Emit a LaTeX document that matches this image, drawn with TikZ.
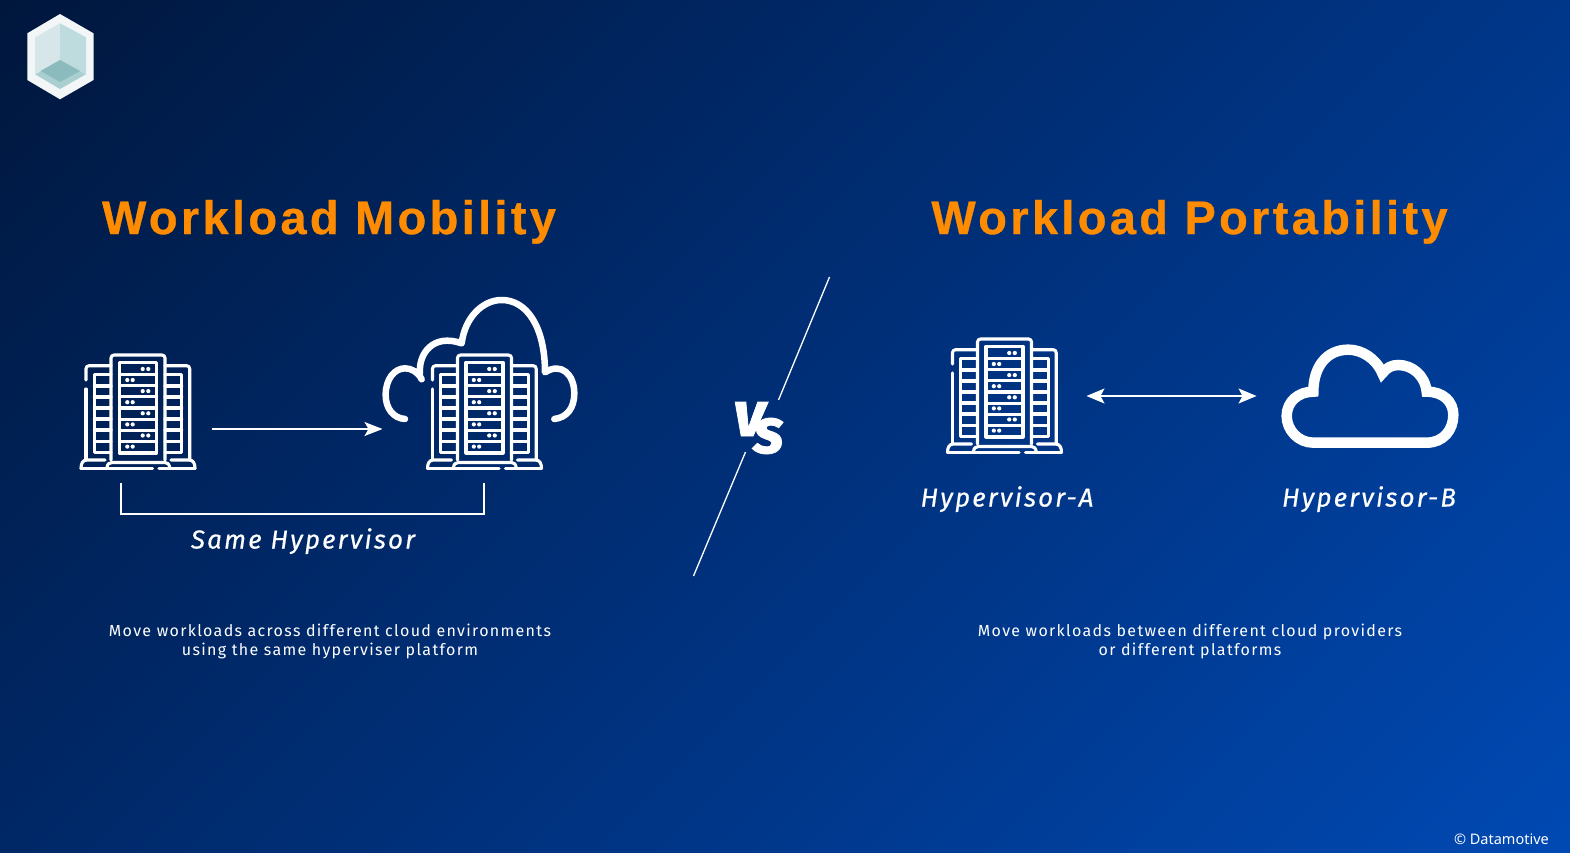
\documentclass[tikz,border=0pt]{standalone}
\usepackage{fontspec}
\usepackage{xcolor}
\setmainfont{Fira Sans}
\newfontfamily\titlefont[LetterSpace=7.1,FakeBold=0.7]{Liberation Sans}
\newfontfamily\labelfont[LetterSpace=8.2,FakeBold=0.5]{Fira Sans}
\newfontfamily\notefont[LetterSpace=8.3]{Fira Sans}
\newfontfamily\versusfont[FakeBold=1.2]{Fira Sans}
\newfontfamily\creditfont{Noto Sans}
\definecolor{bgdark}{HTML}{00173D}
\definecolor{bgmid}{HTML}{002F78}
\definecolor{bglight}{HTML}{0049B3}
\definecolor{amber}{HTML}{FF8C00}
\definecolor{hexwhite}{HTML}{F2F6F7}
\definecolor{faceleft}{HTML}{D7E7E9}
\definecolor{faceright}{HTML}{BEDBDD}
\definecolor{floorlight}{HTML}{A9CFD1}
\definecolor{floordark}{HTML}{8CBBBD}
\usetikzlibrary{arrows.meta}
\pgfdeclarehorizontalshading{bgshade}{100bp}{color(0bp)=(bgdark); color(25bp)=(bgdark); color(50bp)=(bgmid); color(75bp)=(bglight); color(100bp)=(bglight)}
\tikzset{
	rackline/.style={white,line width=3.1pt,line cap=round,line join=round},
	thinline/.style={white,line width=1.3pt},
	bigtitle/.style={amber,anchor=base,font=\titlefont\bfseries\fontsize{47}{47}\selectfont},
	hyperlabel/.style={white,anchor=base,font=\labelfont\itshape\fontsize{26}{26}\selectfont},
	notelabel/.style={white,anchor=base,font=\notefont\fontsize{16}{16}\selectfont},
	pics/server rack/.style={code={
		%%%CENTRE CABINET
		\draw[rackline,rounded corners=3pt] (51,180) -- (51,75) -- (105,75) -- (105,180);
		\draw[rackline] (59.5,82.5) rectangle (96.5,173);
		\draw[rackline] (59.5,94.7) -- (96.5,94.7) (59.5,105.8) -- (96.5,105.8) (59.5,116.9) -- (96.5,116.9) (59.5,128) -- (96.5,128)
			(59.5,139.1) -- (96.5,139.1) (59.5,150.2) -- (96.5,150.2) (59.5,161.3) -- (96.5,161.3);
		\fill[white] (82.7,89) circle (2.1pt) (88.3,89) circle (2.1pt) (67.3,100) circle (2.1pt) (72.7,100) circle (2.1pt)
			(82.7,111.1) circle (2.1pt) (88.3,111.1) circle (2.1pt) (67.3,122.2) circle (2.1pt) (72.7,122.2) circle (2.1pt)
			(82.7,133.3) circle (2.1pt) (88.3,133.3) circle (2.1pt) (67.3,144.4) circle (2.1pt) (72.7,144.4) circle (2.1pt)
			(82.7,155.5) circle (2.1pt) (88.3,155.5) circle (2.1pt) (67.3,166.6) circle (2.1pt) (72.7,166.6) circle (2.1pt);
		%%%BACK CABINETS
		\draw[rackline] (51,94.3) -- (34.3,94.3) -- (34.3,172.8) -- (51,172.8);
		\draw[rackline] (105,94.3) -- (121.7,94.3) -- (121.7,172.8) -- (105,172.8);
		\draw[rackline] (34.3,106) -- (51,106) (34.3,117) -- (51,117) (34.3,128) -- (51,128) (34.3,139) -- (51,139) (34.3,150) -- (51,150) (34.3,161.3) -- (51,161.3);
		\draw[rackline] (105,106) -- (121.7,106) (105,117) -- (121.7,117) (105,128) -- (121.7,128) (105,139) -- (121.7,139) (105,150) -- (121.7,150) (105,161.3) -- (121.7,161.3);
		\draw[rackline,rounded corners=3pt] (26,100) -- (26,85.7) -- (51,85.7);
		\draw[rackline,rounded corners=3pt] (105,85.7) -- (129.7,85.7) -- (129.7,180);
		\draw[rackline] (26,109) -- (26,180);
		%%%BASE
		\draw[rackline] (21,188.5) .. controls (21,183) and (23,180) .. (27,180) -- (45,180);
		\draw[rackline] (135,188.5) .. controls (135,183) and (133,180) .. (129,180) -- (111,180);
		\draw[rackline] (47,188.5) .. controls (47,184) and (49,182.5) .. (52,182.5) -- (105,182.5) .. controls (108,182.5) and (109,184) .. (110,188.5);
		\draw[rackline] (21,188.5) -- (92.5,188.5);
		\draw[rackline] (99,188.5) -- (135,188.5);
	}},
}
\begin{document}
\begin{tikzpicture}[x=1pt,y=-1pt]
	\useasboundingbox (0,0) rectangle (1570,853);
	\begin{scope}
		\clip (0,0) rectangle (1570,853);
		\shade[shading=bgshade,shading angle=-45] (-71.5,-430) rectangle (1641.5,1283);
	\end{scope}
	
	%%%LOGO
	\fill[hexwhite] (60,14) -- (93.5,33.3) -- (93.5,80) -- (60,99.3) -- (27.3,80) -- (27.3,33.3) -- cycle;
	\fill[faceleft] (60,23.3) -- (60,60) -- (35,75) -- (35,37.3) -- cycle;
	\fill[faceright] (60,23.3) -- (60,60) -- (86,75) -- (86,37.3) -- cycle;
	\fill[floorlight] (60,60) -- (85.5,74.5) -- (60,89) -- (35.5,74.5) -- cycle;
	\fill[floordark] (60,60) -- (80,71) -- (60,82) -- (40.5,71) -- cycle;
	
	%%%TITLES
	\node[bigtitle] (mobilitytitle) at (329,234) {Workload Mobility};
	\node[bigtitle] (portabilitytitle) at (1189.5,234) {Workload Portability};
	
	%%%MOBILITY SIDE
	\pic at (60,280) {server rack};
	\pic at (406.5,280) {server rack};
	\begin{scope}[shift={(370,285)},x=.3333pt,y=-.3333pt] %%%CLOUD BEHIND THE RACK
		\draw[white,line width=6.5pt,line cap=round,line join=round] (105,402) .. controls (70,400) and (47,370) .. (47,330) .. controls (47,280) and (75,250) .. (105,250) .. controls (125,250) and (145,262) .. (155,283)
			(150,265) .. controls (145,205) and (190,145) .. (275,175)
			.. controls (285,95) and (340,45) .. (395,45) .. controls (470,45) and (525,125) .. (525,262)
			.. controls (575,230) and (613,270) .. (613,325) .. controls (613,370) and (590,398) .. (553,402);
	\end{scope}
	\coordinate (movestart) at (212,429);
	\coordinate (moveend) at (382.5,429);
	\draw[thinline,-{Stealth[length=18pt,width=14pt,inset=4pt]}] (movestart) -- (moveend);
	\coordinate (bracketleft) at (121,483);
	\coordinate (bracketright) at (484,483);
	\draw[white,line width=1.6pt] (bracketleft) -- (121,514) -- (484,514) -- (bracketright);
	\node[hyperlabel] (samelabel) at (303,548.5) {Same Hypervisor};
	\node[notelabel] (mobilitynote) at (330,636) {Move workloads across different cloud environments};
	\node[notelabel] (mobilitynotetwo) at (330,655) {using the same hyperviser platform};
	
	%%%VS DIVIDER
	\coordinate (slashtop) at (829.5,277);
	\coordinate (slashupper) at (778.5,400);
	\coordinate (slashlower) at (745.5,452);
	\coordinate (slashbottom) at (693.5,576);
	\draw[thinline] (slashtop) -- (slashupper);
	\draw[thinline] (slashlower) -- (slashbottom);
	\node[white,anchor=base west,inner sep=0pt,font=\versusfont\bfseries\itshape\fontsize{64}{64}\selectfont] (versuslabel) at (733,436) {v\kern-12pt\raisebox{-17pt}{s}};
	
	%%%PORTABILITY SIDE
	\pic at (926.5,264) {server rack};
	\begin{scope}[shift={(1270,330)},x=.3333pt,y=-.3333pt] %%%PLAIN CLOUD
		\draw[white,line width=10.5pt,line join=miter,miter limit=6] (130,338) -- (470,338) .. controls (520,338) and (550,300) .. (550,255) .. controls (550,215) and (520,185) .. (470,185)
			.. controls (465,135) and (425,105) .. (385,105) .. controls (365,105) and (350,113) .. (337,130)
			.. controls (318,85) and (275,59) .. (235,59) .. controls (170,59) and (130,110) .. (130,185)
			.. controls (85,185) and (50,215) .. (50,258) .. controls (50,300) and (85,338) .. (130,338) -- cycle;
	\end{scope}
	\coordinate (swapleft) at (1086.5,396);
	\coordinate (swapright) at (1256.5,396);
	\draw[thinline,{Stealth[length=18pt,width=15pt,inset=4pt]}-{Stealth[length=18pt,width=15pt,inset=4pt]}] (swapleft) -- (swapright);
	\node[hyperlabel] (hyperlabela) at (1007,506.5) {Hypervisor-A};
	\node[hyperlabel] (hyperlabelb) at (1369,506.5) {Hypervisor-B};
	\node[notelabel] (portabilitynote) at (1190,636) {Move workloads between different cloud providers};
	\node[notelabel] (portabilitynotetwo) at (1190,655) {or different platforms};
	
	\node[white,anchor=base east,inner sep=0pt,font=\creditfont\fontsize{14.5}{14.5}\selectfont] (creditlabel) at (1549,844) {© Datamotive};
\end{tikzpicture}
\end{document}
